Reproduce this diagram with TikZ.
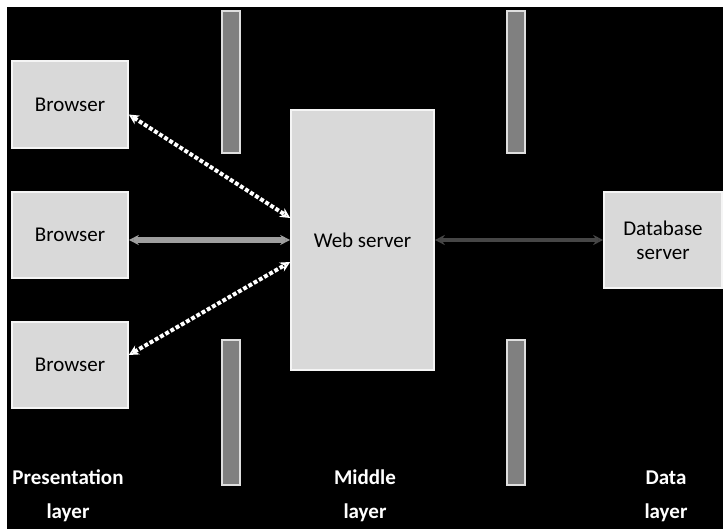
\documentclass[tikz,border=0pt]{standalone}
\usepackage{fontspec}
\setsansfont{Carlito}
\usetikzlibrary{arrows.meta}
\tikzset{every picture/.style={/utils/exec={\sffamily}}}
\definecolor{boxgray}{RGB}{217,217,217}
\definecolor{bargray}{RGB}{128,128,128}
\tikzset{
	tierbox/.style={rectangle, fill=boxgray, draw=gray!8, line width=0.8pt, align=center, font=\fontsize{10.5}{12}\selectfont},
	wall/.style={rectangle, fill=bargray, draw=gray!25, line width=0.8pt, minimum width=9pt, minimum height=71pt, inner sep=0pt},
	layerlabel/.style={text=white, font=\bfseries\fontsize{10.5}{17}\selectfont, align=center},
	link/.style={{Stealth[open,fill=black,length=5pt,width=5pt]}-{Stealth[open,fill=black,length=5pt,width=5pt]}, draw=white}
}

\begin{document}
\begin{tikzpicture}[x=0.5pt,y=-0.5pt]
		\useasboundingbox (0,0) rectangle (723,529);
		\fill[white] (0,0) rectangle (723,529);
		\fill[black] (7,7) rectangle (723,529);

		% separating walls
		\node[wall] (w1) at (231, 82) {};
		\node[wall, minimum height=72.5pt] (w2) at (231, 412.5) {};
		\node[wall] (w3) at (516, 82) {};
		\node[wall, minimum height=72.5pt] (w4) at (516, 412.5) {};

		% boxes
		\node[tierbox, minimum width=58pt, minimum height=43.5pt] (b1) at (70, 104.5) {Browser};
		\node[tierbox, minimum width=58pt, minimum height=43pt] (b2) at (70, 235) {Browser};
		\node[tierbox, minimum width=58pt, minimum height=43pt] (b3) at (70, 365) {Browser};
		\node[tierbox, minimum width=71.5pt, minimum height=130pt] (ws) at (362.5, 240) {Web server};
		\node[tierbox, minimum width=59pt, minimum height=48pt] (db) at (663, 240) {Database\\server};

		% connections
		\draw[link, densely dotted, line width=2pt] ([yshift=-5pt]b1.east) -- ([yshift=11pt]ws.west);
		\draw[link, draw=gray!75, line width=2.6pt] ([yshift=-2.5pt]b2.east) -- (ws.west);
		\draw[link, densely dotted, line width=2pt] ([yshift=5pt]b3.east) -- ([yshift=-11pt]ws.west);
		\draw[link, draw=gray!55!black, line width=1.7pt] (ws.east) -- (db.west);

		% layer names
		\node[layerlabel] (l1) at (68, 496) {Presentation\\layer};
		\node[layerlabel] (l2) at (365, 496) {Middle\\layer};
		\node[layerlabel] (l3) at (666, 496) {Data\\layer};
	\end{tikzpicture}
\end{document}
